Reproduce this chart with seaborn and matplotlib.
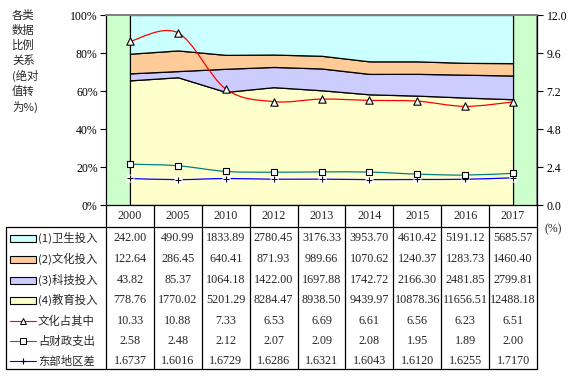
import numpy as np
import matplotlib
matplotlib.use("Agg")
import matplotlib.pyplot as plt
from matplotlib.path import Path
from matplotlib.patches import PathPatch, Rectangle
from matplotlib.ticker import FuncFormatter, FixedLocator
import seaborn as sns

# ================= 数据 =================
years = ["2000", "2005", "2010", "2012", "2013", "2014", "2015", "2016", "2017"]
health = [242.00, 490.99, 1833.89, 2780.45, 3176.33, 3953.70, 4610.42, 5191.12, 5685.57]
culture = [122.64, 286.45, 640.41, 871.93, 989.66, 1070.62, 1240.37, 1283.73, 1460.40]
science = [43.82, 85.37, 1064.18, 1422.00, 1697.88, 1742.72, 2166.30, 2481.85, 2799.81]
education = [778.76, 1770.02, 5201.29, 8284.47, 8938.50, 9439.97, 10878.36, 11656.51, 12488.18]
culture_share = [10.33, 10.88, 7.33, 6.53, 6.69, 6.61, 6.56, 6.23, 6.51]
fiscal_share = [2.58, 2.48, 2.12, 2.07, 2.09, 2.08, 1.95, 1.89, 2.00]
east_gap = [1.6737, 1.6016, 1.6729, 1.6286, 1.6321, 1.6043, 1.6120, 1.6255, 1.7170]

area_labels = ["(1)卫生投入", "(2)文化投入", "(3)科技投入", "(4)教育投入"]
line_labels = ["文化占其中", "占财政支出", "东部地区差"]
side_title = ["各类", "数据", "比例", "关系", "(绝对", "值转", "为%)"]

# ================= 样式 =================
C_HEALTH = "#CCFFFF"
C_CULTURE = "#FFCC99"
C_SCIENCE = "#CCCCFF"
C_EDU = "#FFFFCC"
C_GREEN = "#CCFFCC"
C_RED = "#FF0000"
C_TEAL = "#008080"
C_BLUE = "#0000FF"

W, H = 577, 376
sns.set_theme(style="white")
plt.rcParams['font.family'] = ['Liberation Serif', 'Noto Sans CJK SC', 'DejaVu Sans']
plt.rcParams['axes.unicode_minus'] = False
CJK = ['Noto Sans CJK SC', 'DejaVu Sans']


def smooth_path(xs, ys):
    # Excel 风格平滑曲线 (三次贝塞尔)
    pts = np.column_stack([xs, ys]).astype(float)
    n = len(pts)
    verts = [pts[0]]
    codes = [Path.MOVETO]
    for i in range(n - 1):
        p0 = pts[max(i - 1, 0)]
        p1 = pts[i]
        p2 = pts[i + 1]
        p3 = pts[min(i + 2, n - 1)]
        verts += [p1 + (p2 - p0) / 6, p2 - (p3 - p1) / 6, p2]
        codes += [Path.CURVE4] * 3
    return Path(verts, codes)


fig = plt.figure(figsize=(W / 100, H / 100), dpi=100)

# ---------- 表格层 (像素坐标) ----------
tab = fig.add_axes([0, 0, 1, 1])
tab.set_xlim(0, W)
tab.set_ylim(H, 0)
tab.axis("off")

X0, X1 = 106, 537
Y_TOP, Y_HEAD, Y_BOT = 205, 227, 369
LEFT = 6
step = (X1 - X0) / len(years)
centers = [X0 + step * (i + 0.5) for i in range(len(years))]

for i in range(len(years) + 1):
    tab.plot([X0 + step * i] * 2, [Y_TOP, Y_BOT], color="black", lw=0.9)
tab.plot([LEFT, LEFT], [Y_HEAD, Y_BOT], color="black", lw=0.9)
tab.plot([LEFT, X1], [Y_HEAD, Y_HEAD], color="black", lw=0.9)
tab.plot([LEFT, X1], [Y_BOT, Y_BOT], color="black", lw=0.9)

for cx, yr in zip(centers, years):
    tab.text(cx, 216, yr, ha="center", va="center", fontsize=8.7)

row_y = [238, 259, 280, 300, 321, 341, 361]
area_colors = [C_HEALTH, C_CULTURE, C_SCIENCE, C_EDU]
area_vals = [health, culture, science, education]
for k in range(4):
    y = row_y[k]
    tab.add_patch(Rectangle((10, y - 3.5), 26, 7, facecolor=area_colors[k],
                            edgecolor="black", lw=0.8))
    tab.text(38, y, area_labels[k], ha="left", va="center", fontsize=8.2, family=CJK)
    for cx, v in zip(centers, area_vals[k]):
        tab.text(cx, y, f"{v:.2f}", ha="center", va="center", fontsize=8.7)

line_cols = [C_RED, C_TEAL, C_BLUE]
line_vals = [culture_share, fiscal_share, east_gap]
line_fmt = ["{:.2f}", "{:.2f}", "{:.4f}"]
for k in range(3):
    y = row_y[4 + k]
    tab.plot([10, 36], [y, y], color=line_cols[k], lw=0.8)
    if k == 0:
        tab.plot(23, y, marker="^", ms=5, mfc="white", mec="black", mew=0.7)
    elif k == 1:
        tab.plot(23, y, marker="s", ms=4, mfc="white", mec="black", mew=0.7)
    else:
        tab.plot(23, y, marker="+", ms=4.5, color="black", mew=0.8)
    tab.text(38, y, line_labels[k], ha="left", va="center", fontsize=8.2, family=CJK)
    for cx, v in zip(centers, line_vals[k]):
        tab.text(cx, y, line_fmt[k].format(v), ha="center", va="center", fontsize=8.7)

for j, s in enumerate(side_title):
    tab.text(12, 15 + 15.3 * j, s, ha="left", va="center", fontsize=8.2, family=CJK)
tab.text(553, 229, "(%)", ha="center", va="center", fontsize=8.5)

# ---------- 主图 ----------
ax = fig.add_axes([X0 / W, 1 - Y_TOP / H, (X1 - X0) / W, (Y_TOP - 15) / H])
x = np.arange(len(years))
total = np.array(health) + np.array(culture) + np.array(science) + np.array(education)
pct = lambda a: np.array(a) / total * 100

ax.axvspan(-0.5, 0, color=C_GREEN, lw=0, zorder=0)
ax.axvspan(len(years) - 1, len(years) - 0.5, color=C_GREEN, lw=0, zorder=0)
ax.stackplot(x, pct(education), pct(science), pct(culture), pct(health),
             colors=[C_EDU, C_SCIENCE, C_CULTURE, C_HEALTH],
             edgecolor="black", linewidth=0.9, zorder=1)
ax.set_xlim(-0.5, len(years) - 0.5)
ax.set_ylim(0, 100)
ax.set_xticks([])
ax.yaxis.set_major_locator(FixedLocator([0, 20, 40, 60, 80, 100]))
ax.yaxis.set_major_formatter(FuncFormatter(lambda v, p: f"{v:.0f}%"))
ax.tick_params(axis="y", direction="out", length=4, width=0.8, labelsize=8.5,
               colors="black", pad=2, left=True)
for side in ["left", "bottom"]:
    ax.spines[side].set_color("black")
    ax.spines[side].set_linewidth(0.9)
ax.spines["top"].set_color("#808080")
ax.spines["right"].set_color("#808080")
ax.grid(False)

ax2 = ax.twinx()
ax2.set_ylim(0, 12)
ax2.yaxis.set_major_locator(FixedLocator([0, 2.4, 4.8, 7.2, 9.6, 12.0]))
ax2.yaxis.set_major_formatter(FuncFormatter(lambda v, p: f"{v:.1f}"))
ax2.tick_params(axis="y", direction="out", length=4, width=0.8, labelsize=8.5,
                colors="black", pad=3, right=True)
ax2.spines["right"].set_color("black")
ax2.spines["right"].set_linewidth(0.9)
ax2.spines["top"].set_color("#808080")
ax2.spines["left"].set_visible(False)
ax2.spines["bottom"].set_visible(False)
ax2.grid(False)

ax2.add_patch(PathPatch(smooth_path(x, east_gap), fill=False, edgecolor=C_BLUE, lw=0.9, zorder=2))
ax2.add_patch(PathPatch(smooth_path(x, fiscal_share), fill=False, edgecolor=C_TEAL, lw=0.9, zorder=2))
ax2.add_patch(PathPatch(smooth_path(x, culture_share), fill=False, edgecolor=C_RED, lw=0.9, zorder=2))

ax2.plot(x, east_gap, ls="none", marker="s", ms=5.5, mfc="white", mec="none", zorder=3)
ax2.plot(x, east_gap, ls="none", marker="+", ms=4.5, color="black", mew=0.8, zorder=4)
sns.scatterplot(x=x, y=fiscal_share, marker="s", s=17, color="white",
                edgecolor="black", linewidth=0.8, ax=ax2, zorder=4)
sns.scatterplot(x=x, y=culture_share, marker="^", s=28, color="white",
                edgecolor="black", linewidth=0.8, ax=ax2, zorder=5)
ax2.set_xlim(-0.5, len(years) - 0.5)

fig.savefig("out.png", dpi=100)
